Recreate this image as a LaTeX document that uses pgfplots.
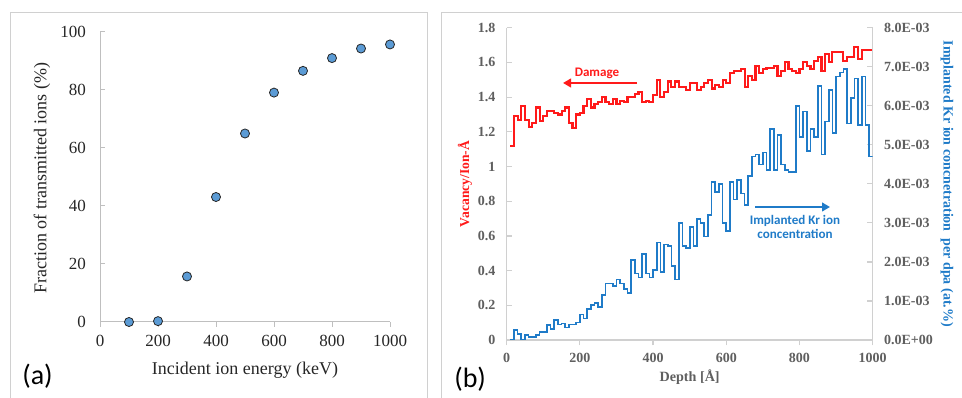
\documentclass[border=0pt]{standalone}
\usepackage{pgfplots}
\pgfplotsset{compat=1.18}
\usepackage{fontspec}
\setmainfont{Liberation Serif}
\newfontfamily\calibri{Carlito}
\usetikzlibrary{arrows.meta}

\definecolor{mkfill}{HTML}{5B9BD5}
\definecolor{kblue}{HTML}{1F7BC8}
\definecolor{kred}{HTML}{FF1A1A}
\definecolor{framegray}{HTML}{D0D0D0}
\definecolor{axgray}{HTML}{BFBFBF}
\definecolor{lblgray}{HTML}{5F5F5F}

% Damage profile (vacancy per ion per angstrom), 10 A bins
\pgfplotstableread[row sep=\\]{
x y \\
10 1.12 \\ 20 1.29 \\ 30 1.27 \\ 40 1.35 \\ 50 1.27 \\ 60 1.23 \\ 70 1.25 \\ 80 1.34 \\ 90 1.26 \\
100 1.29 \\ 110 1.32 \\ 120 1.32 \\ 130 1.31 \\ 140 1.30 \\ 150 1.32 \\ 160 1.34 \\ 170 1.25 \\ 180 1.22 \\ 190 1.30 \\
200 1.31 \\ 210 1.35 \\ 220 1.39 \\ 230 1.34 \\ 240 1.36 \\ 250 1.37 \\ 260 1.40 \\ 270 1.37 \\ 280 1.36 \\ 290 1.39 \\
300 1.36 \\ 310 1.38 \\ 320 1.37 \\ 330 1.40 \\ 340 1.40 \\ 350 1.42 \\ 360 1.43 \\ 370 1.37 \\ 380 1.38 \\ 390 1.37 \\
400 1.41 \\ 410 1.50 \\ 420 1.40 \\ 430 1.43 \\ 440 1.49 \\ 450 1.46 \\ 460 1.49 \\ 470 1.46 \\ 480 1.46 \\ 490 1.44 \\
500 1.48 \\ 510 1.48 \\ 520 1.44 \\ 530 1.46 \\ 540 1.48 \\ 550 1.50 \\ 560 1.45 \\ 570 1.47 \\ 580 1.46 \\ 590 1.50 \\
600 1.48 \\ 610 1.54 \\ 620 1.55 \\ 630 1.55 \\ 640 1.56 \\ 650 1.46 \\ 660 1.52 \\ 670 1.50 \\ 680 1.58 \\ 690 1.54 \\
700 1.56 \\ 710 1.57 \\ 720 1.57 \\ 730 1.58 \\ 740 1.52 \\ 750 1.55 \\ 760 1.60 \\ 770 1.56 \\ 780 1.55 \\ 790 1.54 \\
800 1.56 \\ 810 1.60 \\ 820 1.58 \\ 830 1.56 \\ 840 1.61 \\ 850 1.63 \\ 860 1.55 \\ 870 1.65 \\ 880 1.60 \\ 890 1.66 \\
900 1.66 \\ 910 1.66 \\ 920 1.61 \\ 930 1.63 \\ 940 1.63 \\ 950 1.69 \\ 960 1.62 \\ 970 1.67 \\ 980 1.67 \\ 990 1.67 \\
1000 1.67 \\
}\damage

% Implanted Kr concentration per dpa, in units of 1E-03 at.%
\pgfplotstableread[row sep=\\]{
x y \\
10 0.00 \\ 20 0.25 \\ 30 0.15 \\ 40 0.00 \\ 50 0.13 \\ 60 0.08 \\ 70 0.08 \\ 80 0.13 \\ 90 0.20 \\
100 0.20 \\ 110 0.38 \\ 120 0.28 \\ 130 0.52 \\ 140 0.40 \\ 150 0.42 \\ 160 0.32 \\ 170 0.40 \\ 180 0.40 \\ 190 0.45 \\
200 0.65 \\ 210 0.55 \\ 220 0.80 \\ 230 0.90 \\ 240 0.95 \\ 250 0.85 \\ 260 1.15 \\ 270 1.45 \\ 280 1.45 \\ 290 1.38 \\
300 1.55 \\ 310 1.45 \\ 320 1.30 \\ 330 1.20 \\ 340 2.05 \\ 350 1.70 \\ 360 1.60 \\ 370 2.20 \\ 380 1.70 \\ 390 1.60 \\
400 1.80 \\ 410 2.50 \\ 420 1.75 \\ 430 2.45 \\ 440 2.40 \\ 450 1.90 \\ 460 1.55 \\ 470 3.00 \\ 480 2.40 \\ 490 2.35 \\
500 2.90 \\ 510 2.40 \\ 520 3.10 \\ 530 3.00 \\ 540 2.65 \\ 550 3.20 \\ 560 4.05 \\ 570 3.80 \\ 580 4.00 \\ 590 3.00 \\
600 2.80 \\ 610 4.05 \\ 620 3.60 \\ 630 4.10 \\ 640 3.75 \\ 650 3.45 \\ 660 4.20 \\ 670 4.70 \\ 680 4.75 \\ 690 4.50 \\
700 4.80 \\ 710 4.35 \\ 720 5.40 \\ 730 4.35 \\ 740 5.25 \\ 750 4.50 \\ 760 4.35 \\ 770 4.30 \\ 780 4.30 \\ 790 6.00 \\
800 5.20 \\ 810 5.85 \\ 820 4.85 \\ 830 5.40 \\ 840 5.20 \\ 850 6.50 \\ 860 4.75 \\ 870 5.60 \\ 880 6.40 \\ 890 5.30 \\
900 6.75 \\ 910 6.85 \\ 920 6.95 \\ 930 5.55 \\ 940 6.20 \\ 950 6.70 \\ 960 5.50 \\ 970 6.75 \\ 980 5.50 \\ 990 4.70 \\
1000 4.70 \\
}\krconc

\pgfplotsset{every axis/.append style={/pgf/number format/1000 sep={}}}

\begin{document}
\begin{tikzpicture}[x=0.75pt,y=0.75pt]
\useasboundingbox (0,0) rectangle (962,398);

% panel frames
\draw[framegray, line width=0.75pt] (10,0) -- (10,385) -- (427,385) -- (427,0);
\draw[framegray, line width=0.75pt] (441,0) -- (441,385) -- (962,385);

% ---------- (a) transmitted fraction ----------
\begin{axis}[
  at={(75pt,57pt)}, anchor=south west, scale only axis,
  width=217.5pt, height=217.5pt,
  xmin=0, xmax=1000, ymin=0, ymax=100,
  xtick={0,200,...,1000}, ytick={0,20,...,100},
  axis x line*=bottom, axis y line*=left,
  axis line style={axgray, line width=0.75pt},
  major tick style={axgray, line width=0.75pt},
  xtick align=outside, ytick align=inside, major tick length=3.5pt,
  /pgf/number format/assume math mode=true,
  ticklabel style={font=\fontsize{12.75}{14}\selectfont, text=black!85},
  yticklabel style={xshift=-7pt},
  xticklabel style={yshift=-3pt},
  xlabel={Incident ion energy (keV)},
  ylabel={Fraction of transmitted ions (\%)},
  label style={font=\fontsize{13.5}{15}\selectfont, text=black!85},
  xlabel style={at={(axis description cs:0.5,-0.166)}, anchor=center},
  ylabel style={at={(axis description cs:-0.2,0.495)}, anchor=center},
  clip=false,
]
\addplot[only marks, mark=*, mark size=3.4pt,
  mark options={fill=mkfill, draw=black!85, line width=0.6pt}]
  coordinates {(100,0) (200,0.3) (300,15.7) (400,43.1) (500,65)
               (600,79.1) (700,86.6) (800,91) (900,94.3) (1000,95.7)};
\end{axis}

% ---------- (b) damage and Kr profile, left axis ----------
\begin{axis}[
  at={(380pt,43.5pt)}, anchor=south west, scale only axis,
  width=274.5pt, height=234.2pt,
  xmin=0, xmax=1000, ymin=0, ymax=1.8,
  xtick={0,200,...,1000},
  ytick={0,0.2,0.4,0.6,0.8,1,1.2,1.4,1.6,1.8},
  axis x line*=bottom, axis y line*=left,
  axis line style={framegray, line width=0.9pt},
  major tick style={framegray, line width=0.9pt},
  xtick align=outside, ytick align=inside, major tick length=4pt,
  /pgf/number format/assume math mode=true,
  ticklabel style={font=\fontsize{10.5}{12}\selectfont\bfseries, text=lblgray},
  yticklabel style={xshift=-5pt},
  xticklabel style={yshift=-2pt},
  xlabel={Depth [Å]},
  ylabel={Vacancy/Ion-Å},
  xlabel style={at={(axis description cs:0.5,-0.12)}, anchor=center,
    font=\fontsize{10.6}{12}\selectfont\bfseries, text=lblgray},
  ylabel style={at={(axis description cs:-0.114,0.5)}, anchor=center,
    font=\fontsize{10.2}{12}\selectfont\bfseries, text=kred},
]
\addplot[const plot, kred, line width=1.6pt] table {\damage};
\end{axis}

% ---------- (b) right axis ----------
\begin{axis}[
  at={(380pt,43.5pt)}, anchor=south west, scale only axis,
  width=274.5pt, height=234.2pt,
  xmin=0, xmax=1000, ymin=0, ymax=8,
  axis x line=none, axis y line*=right,
  axis line style={framegray, line width=0.9pt},
  major tick style={framegray, line width=0.9pt},
  ytick align=inside, major tick length=4pt,
  ytick={0,1,...,8},
  yticklabels={0.0E+00,1.0E-03,2.0E-03,3.0E-03,4.0E-03,5.0E-03,6.0E-03,7.0E-03,8.0E-03},
  ticklabel style={font=\fontsize{10.5}{12}\selectfont\bfseries, text=lblgray},
  yticklabel style={xshift=5pt},
  ylabel={Implanted Kr ion concnetration\ \ per dpa (at.\%)},
  ylabel style={at={(axis description cs:1.203,0.5)}, anchor=center, rotate=180,
    font=\fontsize{10.5}{12}\selectfont\bfseries, text=kblue},
]
\addplot[const plot, kblue, line width=1.25pt] table {\krconc};
\end{axis}

% annotations
\node[kred, font=\calibri\bfseries\fontsize{9.8}{11}\selectfont] at (597,325) {Damage};
\draw[kred, line width=1.6pt, -{Triangle[length=6pt,width=6.5pt]}] (637,315) -- (563,315);
\draw[kblue, line width=1.6pt, -{Triangle[length=6pt,width=6.5pt]}] (755,191) -- (830,191);
\node[kblue, font=\calibri\bfseries\fontsize{9.8}{11}\selectfont, align=center,
  inner sep=0pt] at (795,171) {Implanted Kr ion\\[-1pt]concentration};

% panel tags
\node[anchor=west, inner sep=0pt, font=\calibri\fontsize{21}{24}\selectfont] at (22,22) {(a)};
\node[anchor=west, inner sep=0pt, font=\calibri\fontsize{21}{24}\selectfont] at (454,19) {(b)};
\end{tikzpicture}
\end{document}
